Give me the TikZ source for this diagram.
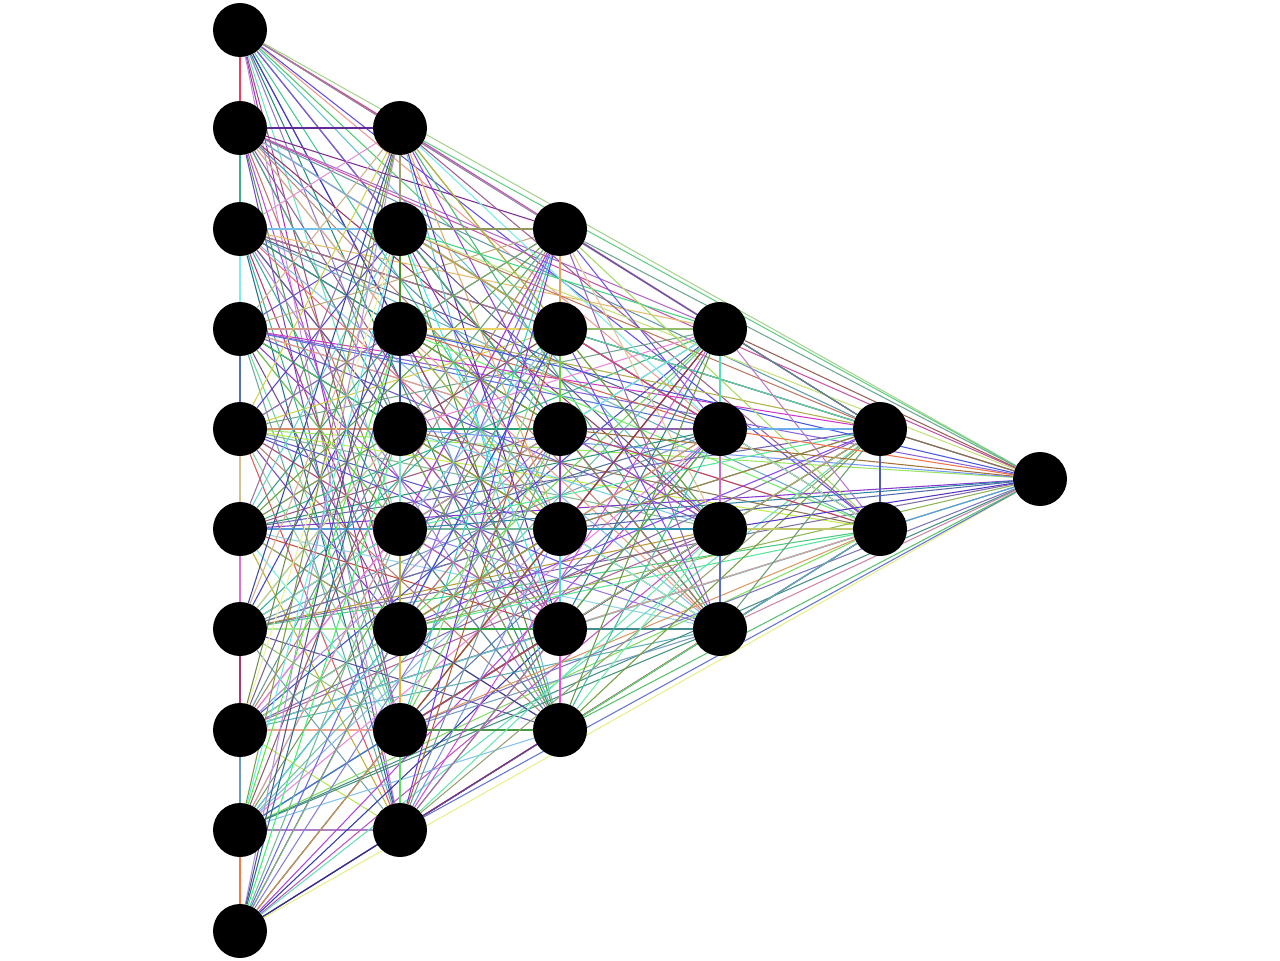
\documentclass[tikz,border=0pt]{standalone}
\usetikzlibrary{backgrounds}
\begin{document}
\begin{tikzpicture}[x=0.02cm,y=-0.02cm,
  neuron/.style={circle,fill=black,inner sep=0pt,minimum size=1.08cm},
  edge/.style={line width=0.6pt}]
\useasboundingbox (0,0) rectangle (1280,960);
\foreach \x/\y [count=\k] in {
  240/30,240/128,240/229,240/329,240/429,240/529,240/629,240/730,240/830,240/931,
  400/128,400/229,400/329,400/429,400/529,400/629,400/730,400/830,
  560/229,560/329,560/429,560/529,560/629,560/730,
  720/329,720/429,720/529,720/629,
  880/429,880/529,
  1040/479}
  \node[neuron] (n\k) at (\x,\y) {};
\pgfmathsetseed{3}
\begin{scope}[on background layer]
\foreach \i in {1,...,30}{
  \pgfmathtruncatemacro\s{\i+1}
  \foreach \j in {\s,...,31}{
    \pgfmathsetmacro\h{rnd}
    \pgfmathsetmacro\sa{0.3+0.45*rnd}
    \pgfmathsetmacro\br{0.55+0.4*rnd}
    \definecolor{ec}{hsb}{\h,\sa,\br}
    \draw[edge,ec] (n\i) -- (n\j);
  }
}
\end{scope}
\end{tikzpicture}
\end{document}
